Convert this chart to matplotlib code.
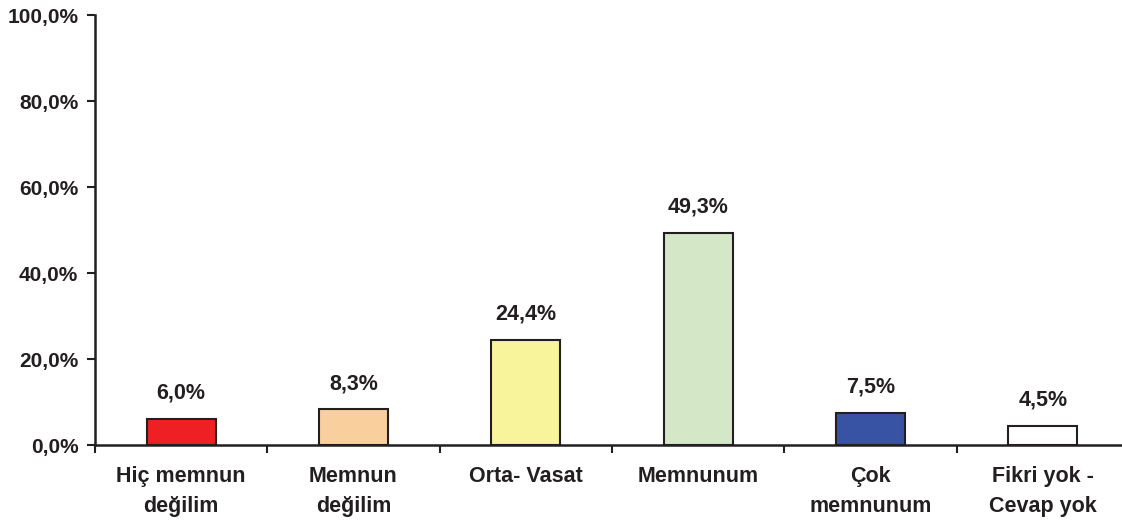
import numpy as np
import matplotlib.pyplot as plt
from matplotlib.ticker import FuncFormatter

# Veriler
kategoriler = ["Hiç memnun\ndeğilim", "Memnun\ndeğilim", "Orta- Vasat",
               "Memnunum", "Çok\nmemnunum", "Fikri yok -\nCevap yok"]
oranlar = [6.0, 8.3, 24.4, 49.3, 7.5, 4.5]
renkler = ["#EE2024", "#FACF9E", "#F7F49C", "#D4E8C8", "#3953A4", "#FFFFFF"]

plt.rcParams["font.family"] = ["Liberation Sans", "DejaVu Sans"]
plt.rcParams["font.weight"] = "bold"

fig = plt.figure(figsize=(11.22, 5.26), dpi=100)
ax = fig.add_axes([95 / 1122, 1 - 445 / 526, 1 - 95 / 1122, (445 - 15) / 526])

x = np.arange(len(kategoriler))
ax.bar(x, oranlar, width=0.4, color=renkler, edgecolor="#231F20", linewidth=1.5, zorder=3)

for xi, v in zip(x, oranlar):
    ax.annotate(f"{v:.1f}%".replace(".", ","), (xi, v), xytext=(0, 11),
                textcoords="offset points", ha="center", va="bottom",
                fontsize=15.5, fontweight="bold", color="#231F20")

ax.set_ylim(0, 100)
ax.set_xlim(-0.5, 5.46)
ax.set_yticks(np.arange(0, 101, 20))
ax.yaxis.set_major_formatter(FuncFormatter(lambda v, p: f"{v:.1f}%".replace(".", ",")))

ax.set_xticks(x)
ax.set_xticklabels(kategoriler, fontsize=15.5, fontweight="bold", linespacing=1.55)
ax.set_xticks(np.arange(-0.5, 5.5, 1.0), minor=True)
ax.tick_params(axis="x", which="major", length=0, pad=15, colors="#231F20")
ax.tick_params(axis="x", which="minor", length=6, width=1.5, color="#231F20")
ax.tick_params(axis="y", length=6, width=1.5, labelsize=15, colors="#231F20", pad=6)

for s in ["top", "right"]:
    ax.spines[s].set_visible(False)
for s in ["left", "bottom"]:
    ax.spines[s].set_linewidth(1.8)
    ax.spines[s].set_color("#231F20")

fig.savefig("out.png", dpi=100)
